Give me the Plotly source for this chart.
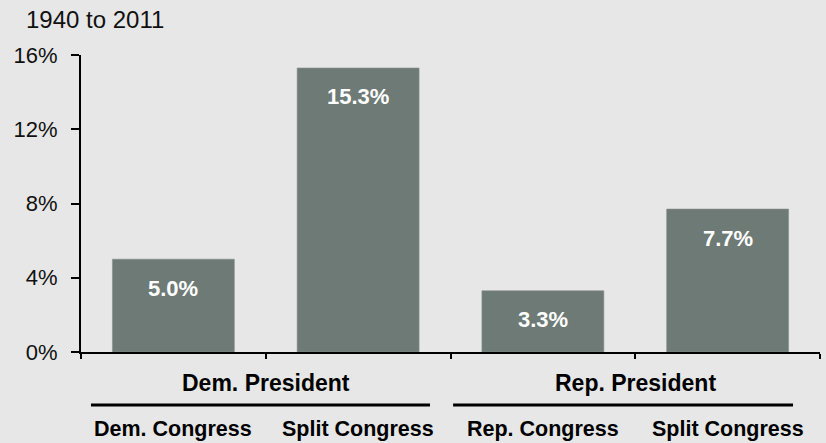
import plotly.graph_objects as go

# Average annual return by party control, 1940 to 2011
categories = ["Dem. Congress", "Split Congress", "Rep. Congress", "Split Congress "]
category_labels = ["Dem. Congress", "Split Congress", "Rep. Congress", "Split Congress"]
values = [5.0, 15.3, 3.3, 7.7]
value_labels = ["5.0%", "15.3%", "3.3%", "7.7%"]
groups = ["Dem. President", "Rep. President"]
y_ticks = [0, 4, 8, 12, 16]
y_tick_labels = ["0%", "4%", "8%", "12%", "16%"]

BG = "#e6e7e6"
BAR = "#6e7a76"
FONT = "Liberation Sans, Arial, sans-serif"

PLOT_W, PLOT_H = 739, 297

fig = go.Figure(
    go.Bar(
        x=categories,
        y=values,
        width=0.66,
        marker=dict(color=BAR, line=dict(color="#87918d", width=0.6)),
        hoverinfo="skip",
    )
)

# Value labels inside the top of each bar
for cat, v, lbl in zip(categories, values, value_labels):
    fig.add_annotation(
        x=cat, y=v, xref="x", yref="y", text=f"<b>{lbl}</b>",
        showarrow=False, yshift=-29, yanchor="middle",
        font=dict(family=FONT, size=22, color="white"),
    )

# Category labels under the axis
for i, lbl in enumerate(category_labels):
    fig.add_annotation(
        x=i, y=0, xref="x", yref="paper", text=f"<b>{lbl}</b>",
        showarrow=False, yshift=-77, yanchor="middle",
        font=dict(family=FONT, size=21.5, color="black"),
    )

# Group labels with underline rules
group_centers = [0.5, 2.5]
group_lines = [(-0.446, 1.389), (1.514, 3.354)]
for g, c, (x0, x1) in zip(groups, group_centers, group_lines):
    fig.add_annotation(
        x=c, y=0, xref="x", yref="paper", text=f"<b>{g}</b>",
        showarrow=False, yshift=-31, yanchor="middle",
        font=dict(family=FONT, size=23, color="black"),
    )
    fig.add_shape(
        type="line", xref="x", yref="paper", x0=x0, x1=x1,
        y0=-53 / PLOT_H, y1=-53 / PLOT_H,
        line=dict(color="black", width=3),
    )

# Title
fig.add_annotation(
    x=-57 / PLOT_W, y=1 + 35 / PLOT_H, xref="paper", yref="paper",
    text="1940 to 2011", showarrow=False,
    xanchor="left", yanchor="middle",
    font=dict(family=FONT, size=24, color="#111111"),
)

fig.update_layout(
    width=826, height=443,
    margin=dict(l=81, r=6, t=55, b=91),
    paper_bgcolor=BG, plot_bgcolor=BG,
    showlegend=False,
    xaxis=dict(
        type="category",
        range=[-0.5, 3.5],
        showticklabels=False,
        ticks="outside", tickson="boundaries", ticklen=5, tickwidth=2,
        tickcolor="black",
        showline=True, linecolor="black", linewidth=2,
        showgrid=False, zeroline=False, fixedrange=True,
    ),
    yaxis=dict(
        range=[0, 16],
        tickvals=y_ticks, ticktext=y_tick_labels,
        ticks="outside", ticklen=8, tickwidth=2, tickcolor="black",
        ticklabelstandoff=9,
        showline=True, linecolor="black", linewidth=2,
        showgrid=False, zeroline=False,
        tickfont=dict(family=FONT, size=22, color="#111111"),
        fixedrange=True,
    ),
)

fig.write_html("out.html")
